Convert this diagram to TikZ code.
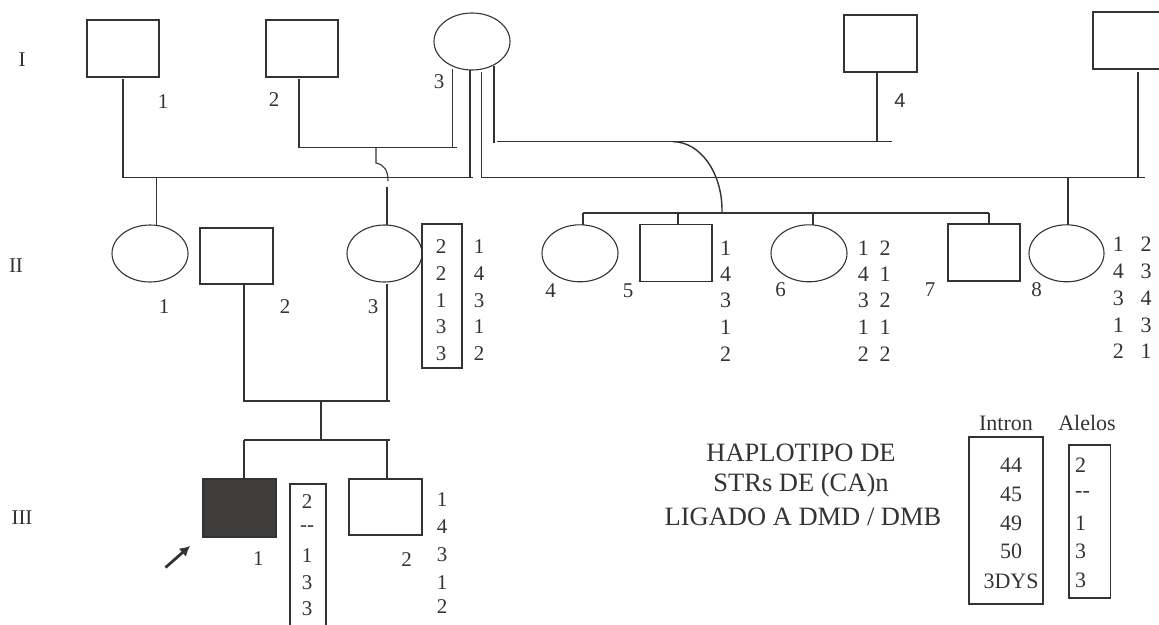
\documentclass[tikz,border=0pt]{standalone}
\usepackage{fontspec}
\setmainfont{Liberation Serif}
\newfontfamily\sansf{Liberation Sans}
\usetikzlibrary{shapes.geometric,arrows.meta}
\definecolor{ink}{HTML}{333333}
\definecolor{fillk}{HTML}{403E3C}
\begin{document}
\begin{tikzpicture}[x=1pt,y=-1pt,
  sq/.style={draw=ink,line width=1.2pt,rectangle,minimum width=72pt,minimum height=57pt,inner sep=0pt},
  fem/.style={draw=ink,line width=1.1pt,ellipse,minimum width=76pt,minimum height=57pt,inner sep=0pt},
  ln/.style={draw=ink,line width=1.4pt},
  thinln/.style={draw=ink,line width=1.1pt},
  hbox/.style={draw=ink,line width=1.2pt},
  num/.style={font=\fontsize{21}{21}\selectfont,text=ink,inner sep=0pt},
  bnum/.style={font=\fontsize{22}{22}\selectfont,text=ink,inner sep=0pt},
  lab/.style={font=\fontsize{21}{21}\selectfont,text=ink,inner sep=0pt},
  gen/.style={font=\fontsize{21}{21}\selectfont,text=ink,inner sep=0pt},
  leg/.style={font=\fontsize{26.5}{26.5}\selectfont,text=ink,inner sep=0pt},
  legnum/.style={font=\fontsize{22}{22}\selectfont,text=ink,inner sep=0pt}
]
\useasboundingbox (0,0) rectangle (1159,624);

% generation labels
\node[gen] (gI) at (22,60) {I};
\node[gen] (gII) at (16,266) {II};
\node[gen] (gIII) at (22,518) {III};

% generation I
\node[sq] (i1) at (123,48.5) {};
\node[sq] (i2) at (302,48.5) {};
\node[fem] (i3) at (472,41.5) {};
\node[sq,minimum width=73pt] (i4) at (880.5,43.5) {};
\node[sq] (i5) at (1129,40.5) {};
\node[lab] (li1) at (163,102) {1};
\node[lab] (li2) at (274,100) {2};
\node[lab] (li3) at (439,82) {3};
\node[lab,font=\sansf\fontsize{20}{20}\selectfont] (li4) at (900,101) {4};

% generation II
\node[fem] (ii1) at (150,253.5) {};
\node[sq,minimum width=73pt,minimum height=56pt] (ii2) at (236.5,256) {};
\node[fem,minimum width=75pt] (ii3) at (384.5,253.5) {};
\node[fem] (ii4) at (580,253.3) {};
\node[sq] (ii5) at (676,253.3) {};
\node[fem] (ii6) at (809,253.3) {};
\node[sq] (ii7) at (984,252.5) {};
\node[fem,minimum width=75pt] (ii8) at (1066.5,253.3) {};
\node[lab] (lii1) at (164,307) {1};
\node[lab] (lii2) at (285,307) {2};
\node[lab] (lii3) at (373,307) {3};
\node[lab] (lii4) at (550.7,290.7) {4};
\node[lab] (lii5) at (628,291) {5};
\node[lab] (lii6) at (780.7,290) {6};
\node[lab] (lii7) at (930,290) {7};
\node[lab] (lii8) at (1036.7,290) {8};

% generation III
\node[sq,fill=fillk,minimum width=73pt,minimum height=58pt] (iii1) at (239.5,508) {};
\node[sq,minimum width=73pt,minimum height=56pt] (iii2) at (385.5,507) {};
\node[lab] (liii1) at (258.3,559) {1};
\node[lab] (liii2) at (406.7,560) {2};

% connectors generation I -> II
\coordinate (a1) at (123,177.3);
\coordinate (a2) at (472.7,177.3);
\draw[ln] (i1.south |- 0,79) -- (a1) -- (a2);
\draw[ln] (470,70) -- (470,177.3);
\draw[ln] (156.7,177.3) -- (156.7,225);
\coordinate (b1) at (299,147.3);
\draw[thinln] (299,79) -- (b1) -- (456.7,147.3);
\draw[thinln] (452.7,69) -- (452.7,147.3);
\draw[thinln] (376,147.3) -- (376,163) .. controls (385,165) and (388,171) .. (388,181);
\draw[thinln] (387,187) -- (387,225);
\draw[thinln] (481.7,71.7) -- (481.7,177.7) -- (1145,177.7);
\draw[ln] (1138,72) -- (1138,178);
\draw[ln] (1068,177.7) -- (1068,225);
\draw[ln] (494,66) -- (494,142.7);
\draw[thinln] (496.7,141.7) -- (892,141.7);
\draw[thinln] (877,72) -- (877,141.7);
\draw[ln] (673,141.7) .. controls (700,141.7) and (722,172.5) .. (722,210) -- (722,213);
\draw[ln] (583,213) -- (989,213);
\draw[ln] (583,213) -- (583,225);
\draw[ln] (678,213) -- (678,225);
\draw[ln] (813,213) -- (813,225);
\draw[ln] (989,213) -- (989,224);

% connectors generation II -> III
\draw[thinln] (244,284) -- (244,401) -- (390,401);
\draw[ln] (387,284) -- (387,401);
\draw[thinln] (321,401) -- (321,440);
\draw[ln] (244,440) -- (390,440);
\draw[thinln] (244,440) -- (244,479);
\draw[thinln] (387,440) -- (387,479);

% proband arrow
\coordinate (arS) at (165.5,567.5);
\coordinate (arE) at (190,546);
\draw[draw=ink,line width=2.8pt,-{Latex[length=10pt,width=11pt]}] (arS) -- (arE);

% II-3 haplotype box
\draw[hbox] (422,224) rectangle (462,368);
\foreach \v/\w/\y in {2/1/247,2/4/274,1/3/301,3/1/327,3/2/354}{
  \node[num] at (441,\y) {\v};
  \node[num] at (479,\y) {\w};
}
% II-5
\foreach \v/\y in {1/248.3,4/274,3/300.7,1/327.7,2/354}{
  \node[bnum] at (725.7,\y) {\v};
}
% II-6
\foreach \v/\w/\y in {1/2/248.3,4/1/274,3/2/300.7,1/1/327.7,2/2/354}{
  \node[bnum] at (863.3,\y) {\v};
  \node[bnum] at (885,\y) {\w};
}
% II-8
\foreach \v/\w/\y in {1/2/244.3,4/3/271.7,3/4/298.3,1/3/325,2/1/351}{
  \node[bnum] at (1118.3,\y) {\v};
  \node[bnum] at (1146,\y) {\w};
}
% III-1 box
\draw[hbox] (290,484) rectangle (326,640);
\foreach \v/\y in {2/502,{-{}-}/529,1/556,3/583,3/609}{
  \node[num] at (307,\y) {\v};
}
% III-2
\foreach \v/\y in {1/500,4/527,3/555,1/582.7,2/607}{
  \node[num] at (442,\y) {\v};
}

% legend
\node[leg] (t1) at (801,453) {HAPLOTIPO DE};
\node[leg] (t2) at (801,485) {STRs DE (CA)n};
\node[leg] (t3) at (803,517) {LIGADO A DMD / DMB};
\node[legnum] (intr) at (1006,423) {Intron};
\node[legnum] (alel) at (1087,423) {Alelos};
\draw[hbox] (969,437) rectangle (1043,604);
\draw[hbox] (1069,445) rectangle (1110.5,598);
\foreach \v/\y in {44/465,45/494.5,49/523,50/551.5,3DYS/581}{
  \node[legnum] at (1011,\y) {\v};
}
\foreach \v/\y in {2/465,{-{}-}/494.5,1/523,3/551.5,3/580}{
  \node[legnum,anchor=west] at (1075,\y) {\v};
}
\end{tikzpicture}
\end{document}
